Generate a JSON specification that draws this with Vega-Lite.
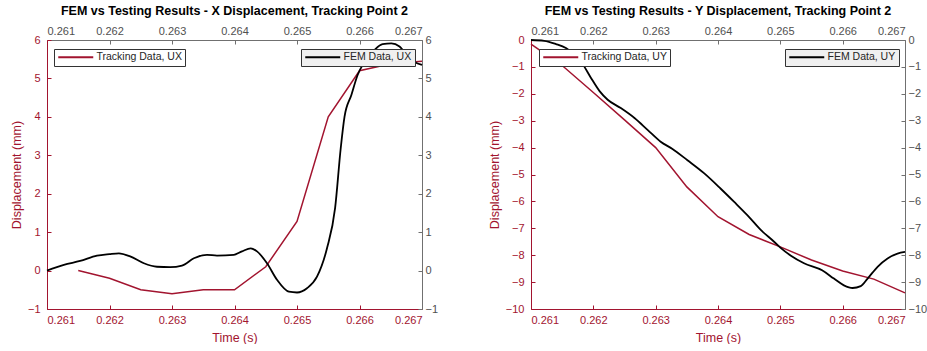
{
  "$schema": "https://vega.github.io/schema/vega-lite/v6.json",
  "padding": {"left": 10, "top": 4, "right": 0, "bottom": 0},
  "spacing": 50,
  "config": {
    "font": "Liberation Sans",
    "view": {"stroke": null},
    "axis": {"grid": false, "labelFontSize": 11, "titleFontSize": 12.5, "titleFontWeight": "normal", "tickSize": -4, "labelPadding": 9},
    "title": {"fontSize": 12.5, "fontWeight": "bold", "color": "#000000", "font": "Liberation Sans"},
    "legend": {"orient": "none", "symbolType": "M-1,0H7.75", "symbolSize": 64, "symbolStrokeWidth": 2, "labelFontSize": 10.5, "labelColor": "#262626", "padding": 3, "labelOffset": 29, "strokeColor": "#333333", "title": null}
  },
  "datasets": {
    "trackUX": [
      {"t": 0.2615, "d": 0}, {"t": 0.262, "d": -0.2}, {"t": 0.2625, "d": -0.5}, {"t": 0.263, "d": -0.6},
      {"t": 0.2635, "d": -0.5}, {"t": 0.264, "d": -0.5}, {"t": 0.2645, "d": 0.1}, {"t": 0.265, "d": 1.28},
      {"t": 0.2655, "d": 4.0}, {"t": 0.266, "d": 5.2}, {"t": 0.2665, "d": 5.38}, {"t": 0.267, "d": 5.45}
    ],
    "femUX": [
      {"t": 0.261, "d": 0}, {"t": 0.26127, "d": 0.15}, {"t": 0.26153, "d": 0.25}, {"t": 0.2618, "d": 0.39},
      {"t": 0.262, "d": 0.43}, {"t": 0.26215, "d": 0.45}, {"t": 0.26233, "d": 0.37}, {"t": 0.26255, "d": 0.19},
      {"t": 0.26276, "d": 0.1}, {"t": 0.26297, "d": 0.09}, {"t": 0.26316, "d": 0.13}, {"t": 0.26335, "d": 0.32},
      {"t": 0.26356, "d": 0.41}, {"t": 0.26372, "d": 0.39}, {"t": 0.26399, "d": 0.41}, {"t": 0.26412, "d": 0.5},
      {"t": 0.26426, "d": 0.58}, {"t": 0.26436, "d": 0.5}, {"t": 0.26452, "d": 0.19}, {"t": 0.26468, "d": -0.24},
      {"t": 0.26487, "d": -0.55}, {"t": 0.265, "d": -0.57}, {"t": 0.26516, "d": -0.46}, {"t": 0.26532, "d": -0.16},
      {"t": 0.26548, "d": 0.58}, {"t": 0.26561, "d": 1.63}, {"t": 0.2657, "d": 3.19}, {"t": 0.26576, "d": 4.0},
      {"t": 0.26587, "d": 4.57}, {"t": 0.26597, "d": 5.09}, {"t": 0.26608, "d": 5.43}, {"t": 0.26624, "d": 5.74},
      {"t": 0.26637, "d": 5.89}, {"t": 0.26651, "d": 5.91}, {"t": 0.26664, "d": 5.83}, {"t": 0.26677, "d": 5.57},
      {"t": 0.26688, "d": 5.43}, {"t": 0.267, "d": 5.35}
    ],
    "trackUY": [
      {"t": 0.261, "d": -0.15}, {"t": 0.2615, "d": -0.95}, {"t": 0.262, "d": -1.95}, {"t": 0.2625, "d": -2.97},
      {"t": 0.263, "d": -4.0}, {"t": 0.2635, "d": -5.46}, {"t": 0.264, "d": -6.57}, {"t": 0.2645, "d": -7.23},
      {"t": 0.265, "d": -7.69}, {"t": 0.2655, "d": -8.18}, {"t": 0.266, "d": -8.59}, {"t": 0.2665, "d": -8.89},
      {"t": 0.267, "d": -9.4}
    ],
    "femUY": [
      {"t": 0.261, "d": 0}, {"t": 0.26121, "d": -0.03}, {"t": 0.2614, "d": -0.15}, {"t": 0.26156, "d": -0.3},
      {"t": 0.26169, "d": -0.53}, {"t": 0.26183, "d": -0.9}, {"t": 0.26196, "d": -1.4}, {"t": 0.2621, "d": -1.9},
      {"t": 0.26223, "d": -2.22}, {"t": 0.26244, "d": -2.53}, {"t": 0.26266, "d": -2.9}, {"t": 0.26287, "d": -3.34},
      {"t": 0.26308, "d": -3.78}, {"t": 0.26327, "d": -4.05}, {"t": 0.26351, "d": -4.47}, {"t": 0.26378, "d": -4.96},
      {"t": 0.26404, "d": -5.52}, {"t": 0.26426, "d": -6.02}, {"t": 0.26447, "d": -6.51}, {"t": 0.26469, "d": -7.07},
      {"t": 0.2649, "d": -7.5}, {"t": 0.265, "d": -7.72}, {"t": 0.26517, "d": -8.02}, {"t": 0.26538, "d": -8.3},
      {"t": 0.26567, "d": -8.56}, {"t": 0.26586, "d": -8.87}, {"t": 0.26602, "d": -9.12}, {"t": 0.26616, "d": -9.22},
      {"t": 0.26629, "d": -9.15}, {"t": 0.2664, "d": -8.87}, {"t": 0.26656, "d": -8.43}, {"t": 0.26672, "d": -8.12},
      {"t": 0.26688, "d": -7.94}, {"t": 0.267, "d": -7.88}
    ]
  },
  "hconcat": [
    {
      "width": 375,
      "height": 269,
      "title": {"text": "FEM vs Testing Results - X Displacement, Tracking Point 2", "offset": 8},
      "layer": [
        {
          "data": {"name": "trackUX"},
          "mark": {"type": "line", "strokeWidth": 1.5},
          "encoding": {
            "x": {"field": "t", "type": "quantitative", "scale": {"domain": [0.261, 0.267], "nice": false, "zero": false},
                  "axis": {"orient": "bottom", "title": "Time (s)", "values": [0.261, 0.262, 0.263, 0.264, 0.265, 0.266, 0.267], "format": ".3f",
                           "domainColor": "#a2142f", "tickColor": "#a2142f", "labelColor": "#a2142f", "titleColor": "#a2142f", "titlePadding": 6}},
            "y": {"field": "d", "type": "quantitative", "scale": {"domain": [-1, 6], "nice": false, "zero": false},
                  "axis": {"orient": "left", "title": "Displacement (mm)", "values": [-1, 0, 1, 2, 3, 4, 5, 6], "labelPadding": 11,
                           "domainColor": "#a2142f", "tickColor": "#a2142f", "labelColor": "#a2142f", "titleColor": "#a2142f", "titlePadding": 4}},
            "color": {"datum": "Tracking Data, UX", "type": "nominal", "scale": {"range": ["#a2142f"]},
                      "legend": {"legendX": 7, "legendY": 9, "fillColor": "#ffffff"}}
          }
        },
        {
          "data": {"name": "femUX"},
          "mark": {"type": "line", "strokeWidth": 1.8, "interpolate": "monotone"},
          "encoding": {
            "x": {"field": "t", "type": "quantitative",
                  "axis": {"orient": "top", "title": null, "values": [0.261, 0.262, 0.263, 0.264, 0.265, 0.266, 0.267], "format": ".3f", "labelPadding": 8,
                           "domainColor": "#707070", "tickColor": "#707070", "labelColor": "#505050"}},
            "y": {"field": "d", "type": "quantitative", "scale": {"domain": [-1, 6], "nice": false, "zero": false},
                  "axis": {"orient": "right", "title": null, "values": [-1, 0, 1, 2, 3, 4, 5, 6], "labelPadding": 7,
                           "domainColor": "#707070", "tickColor": "#707070", "labelColor": "#505050"}},
            "color": {"datum": "FEM Data, UX", "type": "nominal", "scale": {"range": ["#000000"]},
                      "legend": {"legendX": 254, "legendY": 9, "fillColor": "#f0f0f0"}}
          }
        }
      ],
      "resolve": {"scale": {"y": "independent", "color": "independent"}, "axis": {"x": "independent", "y": "independent"}, "legend": {"color": "independent"}}
    },
    {
      "width": 374,
      "height": 269,
      "title": {"text": "FEM vs Testing Results - Y Displacement, Tracking Point 2", "offset": 8},
      "layer": [
        {
          "data": {"name": "trackUY"},
          "mark": {"type": "line", "strokeWidth": 1.5},
          "encoding": {
            "x": {"field": "t", "type": "quantitative", "scale": {"domain": [0.261, 0.267], "nice": false, "zero": false},
                  "axis": {"orient": "bottom", "title": "Time (s)", "values": [0.261, 0.262, 0.263, 0.264, 0.265, 0.266, 0.267], "format": ".3f",
                           "domainColor": "#a2142f", "tickColor": "#a2142f", "labelColor": "#a2142f", "titleColor": "#a2142f", "titlePadding": 6}},
            "y": {"field": "d", "type": "quantitative", "scale": {"domain": [-10, 0], "nice": false, "zero": false},
                  "axis": {"orient": "left", "title": "Displacement (mm)", "values": [-10, -9, -8, -7, -6, -5, -4, -3, -2, -1, 0], "labelPadding": 11,
                           "domainColor": "#a2142f", "tickColor": "#a2142f", "labelColor": "#a2142f", "titleColor": "#a2142f", "titlePadding": 4}},
            "color": {"datum": "Tracking Data, UY", "type": "nominal", "scale": {"range": ["#a2142f"]},
                      "legend": {"legendX": 8, "legendY": 9, "fillColor": "#ffffff"}}
          }
        },
        {
          "data": {"name": "femUY"},
          "mark": {"type": "line", "strokeWidth": 1.8, "interpolate": "monotone"},
          "encoding": {
            "x": {"field": "t", "type": "quantitative",
                  "axis": {"orient": "top", "title": null, "values": [0.261, 0.262, 0.263, 0.264, 0.265, 0.266, 0.267], "format": ".3f", "labelPadding": 8,
                           "domainColor": "#707070", "tickColor": "#707070", "labelColor": "#505050"}},
            "y": {"field": "d", "type": "quantitative", "scale": {"domain": [-10, 0], "nice": false, "zero": false},
                  "axis": {"orient": "right", "title": null, "values": [-10, -9, -8, -7, -6, -5, -4, -3, -2, -1, 0], "labelPadding": 7,
                           "domainColor": "#707070", "tickColor": "#707070", "labelColor": "#505050"}},
            "color": {"datum": "FEM Data, UY", "type": "nominal", "scale": {"range": ["#000000"]},
                      "legend": {"legendX": 254, "legendY": 9, "fillColor": "#f0f0f0"}}
          }
        }
      ],
      "resolve": {"scale": {"y": "independent", "color": "independent"}, "axis": {"x": "independent", "y": "independent"}, "legend": {"color": "independent"}}
    }
  ]
}
